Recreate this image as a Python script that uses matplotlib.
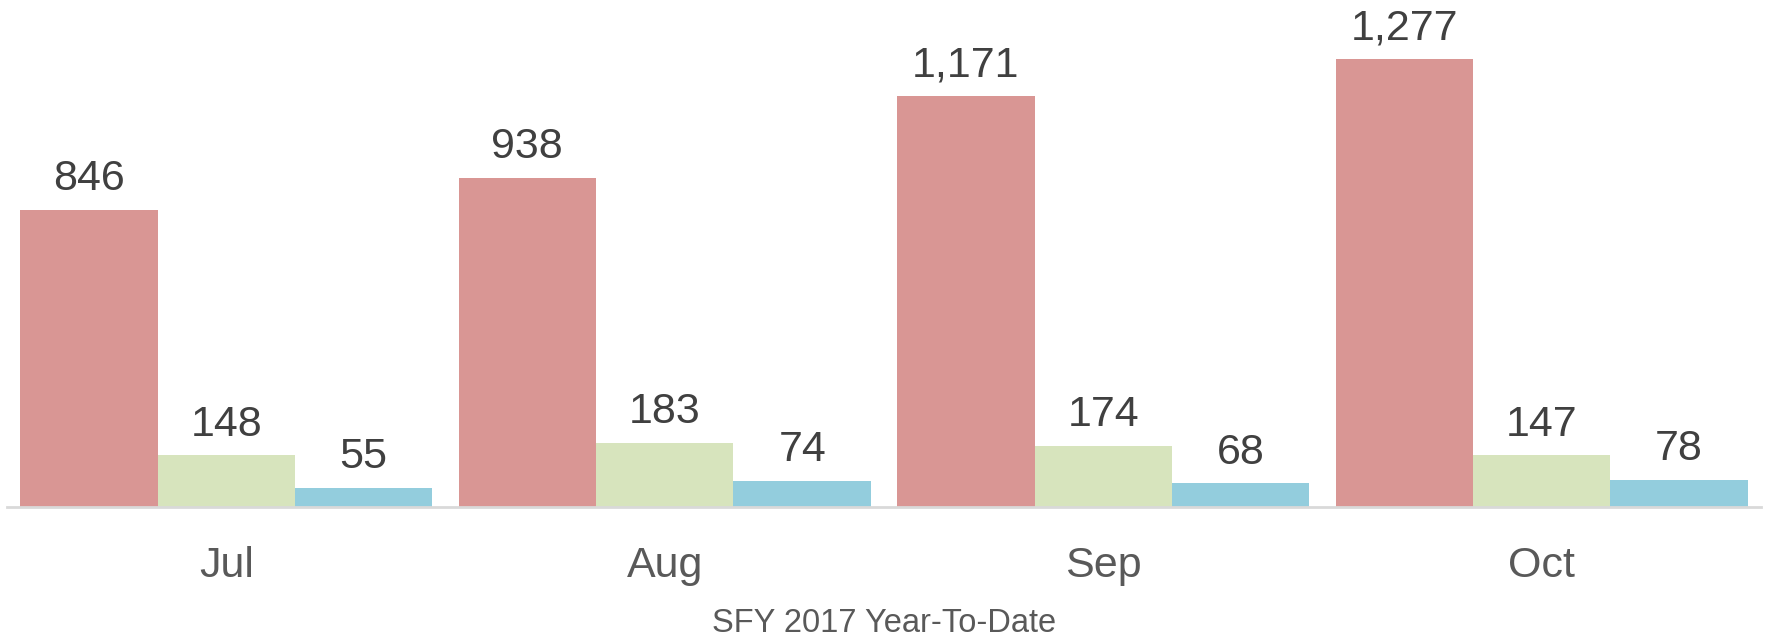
import numpy as np
import matplotlib
matplotlib.use("Agg")
import matplotlib.pyplot as plt

plt.rcParams['font.family'] = ['Liberation Sans', 'DejaVu Sans']

# data
months = ["Jul", "Aug", "Sep", "Oct"]
series_a = [846, 938, 1171, 1277]
series_b = [148, 183, 174, 147]
series_c = [55, 74, 68, 78]
colors = ["#D99694", "#D7E4BD", "#93CDDD"]
xlabel = "SFY 2017 Year-To-Date"

fig = plt.figure(figsize=(17.68, 6.39), dpi=100)
ax = fig.add_axes([7/1768, (639-507)/639, 1754/1768, 507/639])

x = np.arange(len(months))
w = 0.94 / 3
for i, (vals, c) in enumerate(zip([series_a, series_b, series_c], colors)):
    pos = x + (i - 1) * w
    ax.bar(pos, vals, width=w, color=c, edgecolor="none")
    for p, v in zip(pos, vals):
        ax.text(p, v + 30, f"{v:,}", ha="center", va="bottom", fontsize=31, color="#404040")

ax.set_xlim(-0.5, len(months) - 0.5)
ax.set_ylim(0, 1444)
ax.set_xticks(x)
ax.set_xticklabels(months, fontsize=31, color="#595959")
ax.tick_params(axis="x", length=0, pad=28)
ax.set_yticks([])
for s in ["top", "left", "right"]:
    ax.spines[s].set_visible(False)
ax.spines["bottom"].set_color("#D9D9D9")
ax.spines["bottom"].set_linewidth(2)
ax.set_xlabel(xlabel, fontsize=23.5, color="#595959", labelpad=16)

fig.savefig("out.png", dpi=100)
